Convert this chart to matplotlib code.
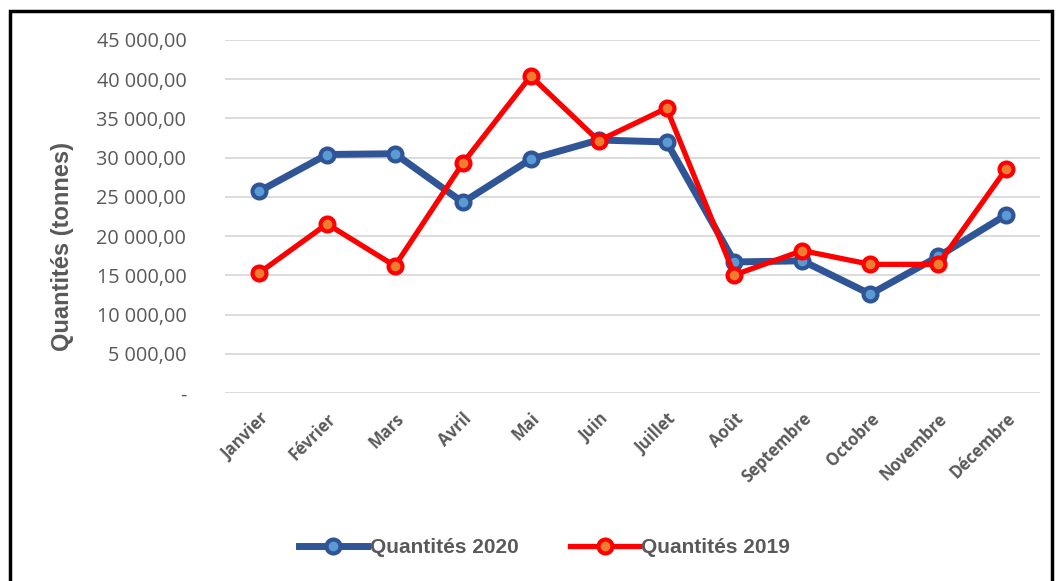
import matplotlib.pyplot as plt
from matplotlib.patches import Rectangle
from matplotlib.ticker import FuncFormatter

mois = ["Janvier", "Février", "Mars", "Avril", "Mai", "Juin", "Juillet",
        "Août", "Septembre", "Octobre", "Novembre", "Décembre"]
q2020 = [25700, 30400, 30500, 24300, 29800, 32250, 32000,
         16700, 16850, 12600, 17400, 22700]
q2019 = [15300, 21550, 16200, 29300, 40400, 32150, 36300,
         15050, 18150, 16400, 16400, 28550]

gris = "#595959"

fig = plt.figure(figsize=(10.57, 5.81), dpi=100)
ax = fig.add_axes([0.213, 0.3236, 0.771, 0.6076])

x = range(len(mois))
ax.plot(x, q2020, color="#2F5597", lw=5, marker="o", ms=10,
        mfc="#5B9BD5", mec="#2F5597", mew=3, label="Quantités 2020", zorder=3)
ax.plot(x, q2019, color="#FF0000", lw=3.8, marker="o", ms=10,
        mfc="#ED7D31", mec="#FF0000", mew=3, label="Quantités 2019", zorder=4)

ax.set_ylim(0, 45000)
ax.set_xlim(-0.5, len(mois) - 0.5)
ax.set_yticks(range(0, 45001, 5000))


def fmt(v, pos):
    if v == 0:
        return "-"
    return f"{v:,.2f}".replace(",", " ").replace(".", ",")


ax.yaxis.set_major_formatter(FuncFormatter(fmt))
ax.grid(axis="y", color="#D9D9D9", lw=1.3)
ax.set_axisbelow(True)
for s in ax.spines.values():
    s.set_visible(False)
ax.tick_params(length=0)
ax.tick_params(axis="y", pad=28, labelsize=14.3, labelcolor=gris)
for t in ax.get_yticklabels():
    t.set_family(["Open Sans", "DejaVu Sans"])

ax.set_xticks(list(x))
ax.set_xticklabels(mois, rotation=45, ha="right", rotation_mode="anchor",
                   fontsize=12, fontweight="bold", color=gris,
                   family=["Open Sans", "DejaVu Sans"])
ax.tick_params(axis="x", pad=12)

fig.text(0.059, 0.575, "Quantités (tonnes)", rotation=90, va="center",
         ha="center", fontsize=17, fontweight="bold", color=gris,
         family=["Liberation Sans Narrow", "Liberation Sans", "DejaVu Sans"])

leg = fig.legend(loc="center", bbox_to_anchor=(0.515, 0.057), ncol=2,
                 frameon=False, handlelength=3.3, handletextpad=0.1,
                 columnspacing=2.5,
                 prop={"family": ["Liberation Sans Narrow", "Liberation Sans"],
                       "weight": "bold", "size": 15})
for t in leg.get_texts():
    t.set_color(gris)

fig.add_artist(Rectangle((10 / 1057, -0.05), 1042 / 1057, 1 - 11 / 581 + 0.05,
                         transform=fig.transFigure, fill=False,
                         ec="black", lw=2.5))

fig.savefig("out.png", dpi=100)
